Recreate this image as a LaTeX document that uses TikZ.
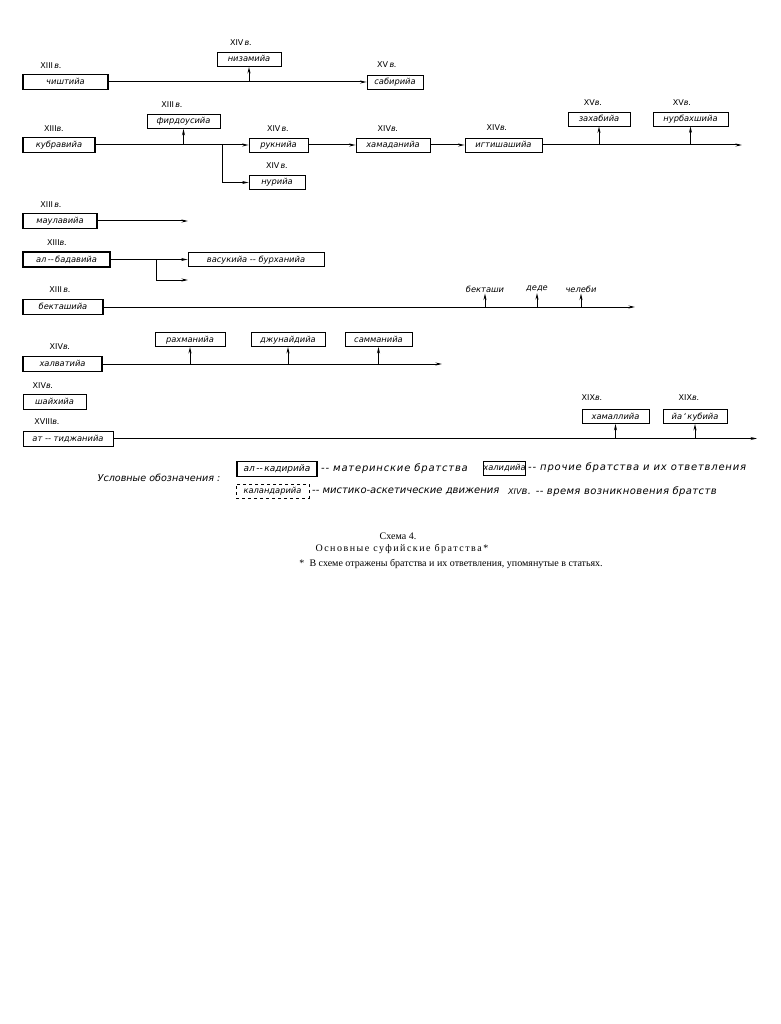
\documentclass[tikz,border=0pt]{standalone}
\usepackage{fontspec}
\setmainfont{Liberation Serif}
\newfontfamily\schfont{DejaVu Sans}
\usetikzlibrary{arrows.meta}

\newcommand{\boxfont}{\schfont\itshape\fontsize{8.3}{10}\selectfont}
\newcommand{\legfont}{\schfont\itshape\fontsize{10}{11}\selectfont}
\newcommand{\centfont}{\schfont\fontsize{8}{9}\selectfont}

\begin{document}
\begin{tikzpicture}[x=1pt,y=-1pt,
  mother/.style={draw,line width=1.4pt,inner sep=0pt,minimum height=15pt,text height=6.5pt,text depth=1.5pt,font=\boxfont},
  order/.style={draw,line width=.8pt,inner sep=0pt,minimum height=14pt,text height=6.5pt,text depth=1.5pt,font=\boxfont},
  movement/.style={draw,dashed,line width=.8pt,inner sep=0pt,minimum height=14pt,text height=6.5pt,text depth=1.5pt,font=\boxfont},
  plain/.style={inner sep=1pt,font=\boxfont},
  cent/.style={inner sep=0pt,font=\centfont},
  legtext/.style={anchor=west,inner sep=0pt,font=\legfont},
  link/.style={line width=1pt,-{Stealth[length=6.5pt,width=3pt]}}]

\useasboundingbox (0,0) rectangle (780,1024);

% chishtiya
\node[mother,minimum width=85pt] (chisht) at (65.5,82) {чиштийа};
\node[cent] (chishtc) at (51,66) {XIII\,{\itshape в.}};
\node[order,minimum width=64pt] (nizam) at (249,59.5) {низамийа};
\node[cent] (nizamc) at (241,43) {XIV\,{\itshape в.}};
\node[order,minimum width=56pt] (sabir) at (395,82) {сабирийа};
\node[cent] (sabirc) at (387,65) {XV\,{\itshape в.}};
\draw[link] (chisht) -- (sabir);
\draw[link] (nizam.south |- chisht.east) -- (nizam.south);

% kubraviya
\node[mother,minimum width=72pt] (kubr) at (59,145) {кубравийа};
\node[cent] (kubrc) at (54,129) {XIII{\itshape в.}};
\node[order,minimum width=73pt] (firdo) at (183.5,121.5) {фирдоусийа};
\node[cent] (firdoc) at (172,105) {XIII\,{\itshape в.}};
\node[order,minimum width=59pt] (rukn) at (278.5,145) {рукнийа};
\node[cent] (ruknc) at (278,129) {XIV\,{\itshape в.}};
\node[order,minimum width=56pt] (nuri) at (277,182.5) {нурийа};
\node[cent] (nuric) at (277,166) {XIV\,{\itshape в.}};
\node[order,minimum width=74pt] (hamad) at (393,145) {хамаданийа};
\node[cent] (hamadc) at (388,129) {XIV{\itshape в.}};
\node[order,minimum width=77pt] (igtish) at (503.5,145) {игтишашийа};
\node[cent] (igtishc) at (497,128) {XIV{\itshape в.}};
\node[order,minimum width=62pt] (zahab) at (599,119) {захабийа};
\node[cent] (zahabc) at (593,103) {XV{\itshape в.}};
\node[order,minimum width=75pt] (nurbah) at (690.5,119) {нурбахшийа};
\node[cent] (nurbahc) at (682,103) {XV{\itshape в.}};
\coordinate (kfork) at (222,145);
\coordinate (kend) at (742,145);
\draw[link] (kubr) -- (rukn);
\draw[link] (firdo.south |- kubr.east) -- (firdo.south);
\draw[link] (kfork) |- (nuri);
\draw[link] (rukn) -- (hamad);
\draw[link] (hamad) -- (igtish);
\draw[link] (igtish) -- (kend);
\draw[link] (zahab.south |- kend) -- (zahab.south);
\draw[link] (nurbah.south |- kend) -- (nurbah.south);

% maulaviya
\node[mother,minimum width=74pt] (maulav) at (60,221) {маулавийа};
\node[cent] (maulavc) at (51,205) {XIII\,{\itshape в.}};
\coordinate (mend) at (188,221);
\draw[link] (maulav) -- (mend);

% al-badaviya
\node[mother,minimum width=87pt] (badav) at (66.5,259.5) {ал\,--\,бадавийа};
\node[cent] (badavc) at (57,243) {XIII{\itshape в.}};
\node[order,minimum width=136pt] (vasuk) at (256,259.5) {васукийа -- бурханийа};
\coordinate (bfork) at (156,259.5);
\coordinate (bend) at (188,280);
\draw[link] (badav) -- (vasuk);
\draw[link] (bfork) |- (bend);

% bektashiya
\node[mother,minimum width=80pt] (bektash) at (63,307) {бекташийа};
\node[cent] (bektashc) at (60,290) {XIII\,{\itshape в.}};
\node[plain] (bektashi) at (485,289) {бекташи};
\node[plain] (dede) at (537,289) {деде};
\node[plain] (cheleb) at (581,289) {челеби};
\coordinate (bkend) at (635,307);
\draw[link] (bektash) -- (bkend);
\draw[link] (bektashi.south |- bkend) -- (bektashi.south);
\draw[link] (dede.south |- bkend) -- (dede.south);
\draw[link] (cheleb.south |- bkend) -- (cheleb.south);

% khalvatiya
\node[mother,minimum width=79pt] (halvat) at (62.5,364) {халватийа};
\node[cent] (halvatc) at (60,347) {XIV{\itshape в.}};
\node[order,minimum width=70pt] (rahman) at (190,339.5) {рахманийа};
\node[order,minimum width=74pt] (dzhun) at (288,339.5) {джунайдийа};
\node[order,minimum width=67pt] (samman) at (378.5,339.5) {самманийа};
\coordinate (hend) at (442,364);
\draw[link] (halvat) -- (hend);
\draw[link] (rahman.south |- hend) -- (rahman.south);
\draw[link] (dzhun.south |- hend) -- (dzhun.south);
\draw[link] (samman.south |- hend) -- (samman.south);

% shaikhiya
\node[mother,line width=1pt,minimum width=63pt] (shaikh) at (54.5,402) {шайхийа};
\node[cent] (shaikhc) at (43,386) {XIV{\itshape в.}};

% at-tijaniya
\node[mother,line width=1pt,minimum width=90pt] (tidzh) at (68,438.5) {ат -- тиджанийа};
\node[cent] (tidzhc) at (47,422) {XVIII{\itshape в.}};
\node[order,minimum width=67pt] (hamall) at (615.5,416.5) {хамаллийа};
\node[cent] (hamallc) at (592,398) {XIX{\itshape в.}};
\node[order,minimum width=64pt] (yakub) at (695,416.5) {йа\,‘\,кубийа};
\node[cent] (yakubc) at (689,398) {XIX{\itshape в.}};
\coordinate (tend) at (757,438.5);
\draw[link] (tidzh) -- (tend);
\draw[link] (hamall.south |- tend) -- (hamall.south);
\draw[link] (yakub.south |- tend) -- (yakub.south);

% legend
\node[inner sep=0pt,font=\schfont\itshape\fontsize{9.6}{11}\selectfont] (legtitle) at (159,478) {Условные обозначения :};
\node[mother,minimum width=80pt,font=\schfont\itshape\fontsize{9}{10}\selectfont] (kadir) at (277,469) {ал\,--\,кадирийа};
\node[legtext,font=\legfont\addfontfeature{LetterSpace=8}] (kadirt) at (321,469) {-- материнские братства};
\node[movement,minimum width=73pt] (kaland) at (272.5,491) {каландарийа};
\node[legtext] (kalandt) at (312,491) {-- мистико-аскетические движения};
\node[order,minimum width=42pt] (halid) at (504.5,468) {халидийа};
\node[legtext,font=\legfont\addfontfeature{LetterSpace=8}] (halidt) at (528,468) {-- прочие братства и их ответвления};
\node[legtext,font=\legfont\addfontfeature{LetterSpace=4}] (centt) at (508,492) {{\centfont XIV}в. -- время возникновения братств};

% caption
\node[font=\fontsize{10}{11}\selectfont,inner sep=0pt] (capnum) at (398,536) {Схема 4.};
\node[font=\fontsize{10}{11}\selectfont\addfontfeature{LetterSpace=15},inner sep=0pt] (captitle) at (402,549) {Основные суфийские братства\,*};
\node[font=\fontsize{10}{11}\selectfont,inner sep=0pt] (capnote) at (451,564) {*\; В схеме отражены братства и их ответвления, упомянутые в статьях.};
\end{tikzpicture}
\end{document}
